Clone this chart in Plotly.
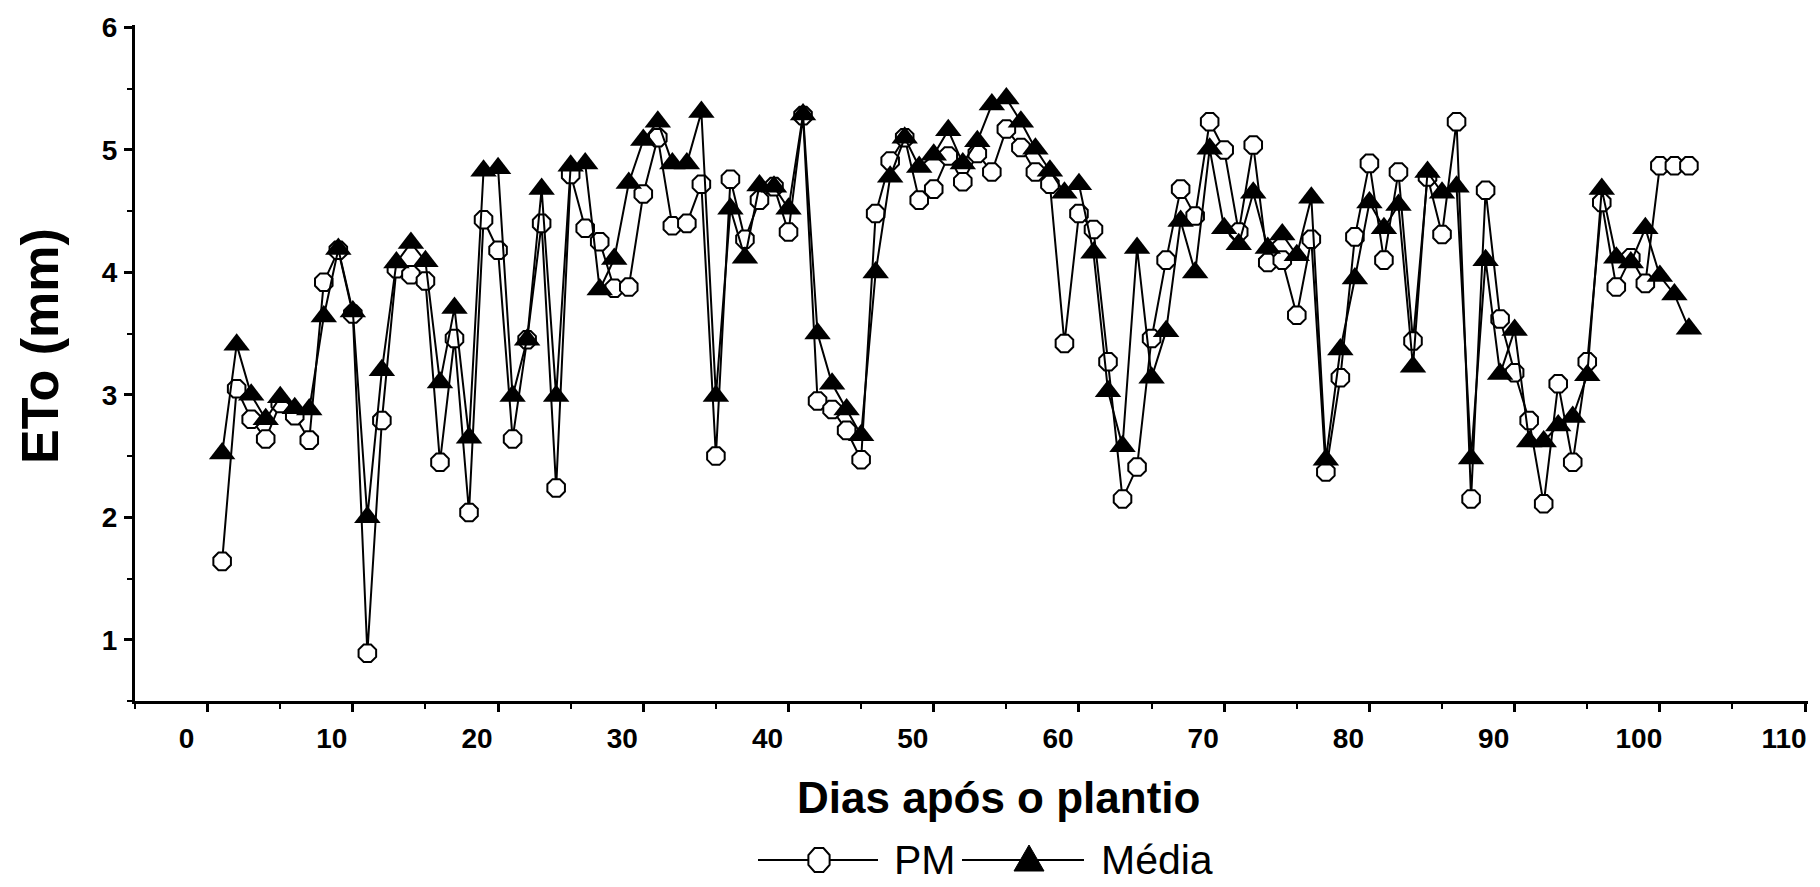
import math
import plotly.graph_objects as go

# Days after planting
dias = list(range(1, 103))

# Reference evapotranspiration (mm) - Penman-Monteith
pm = [1.64, 3.05, 2.80, 2.64, 2.93, 2.83, 2.63, 3.92, 4.18, 3.66,
      0.89, 2.79, 4.03, 3.98, 3.93, 2.45, 3.46, 2.04, 4.43, 4.18,
      2.64, 3.45, 4.40, 2.24, 4.80, 4.36, 4.25, 3.87, 3.88, 4.64,
      5.10, 4.38, 4.40, 4.72, 2.50, 4.76, 4.27, 4.59, 4.70, 4.33,
      5.28, 2.95, 2.88, 2.71, 2.47, 4.48, 4.91, 5.10, 4.59, 4.68,
      4.95, 4.74, 4.97, 4.82, 5.17, 5.02, 4.82, 4.72, 3.42, 4.48,
      4.35, 3.27, 2.15, 2.41, 3.46, 4.10, 4.68, 4.46, 5.23, 5.00,
      4.33, 5.04, 4.08, 4.10, 3.65, 4.27, 2.37, 3.14, 4.29, 4.89,
      4.10, 4.82, 3.44, 4.78, 4.31, 5.23, 2.15, 4.67, 3.62, 3.18,
      2.79, 2.11, 3.09, 2.45, 3.27, 4.57, 3.88, 4.12, 3.91, 4.87,
      4.87, 4.87]

# Reference evapotranspiration (mm) - mean of methods
media = [2.52, 3.41, 3.00, 2.80, 2.98, 2.89, 2.88, 3.64, 4.19, 3.68,
         2.00, 3.20, 4.08, 4.24, 4.09, 3.10, 3.71, 2.65, 4.83, 4.85,
         2.99, 3.45, 4.68, 2.99, 4.87, 4.89, 3.86, 4.11, 4.73, 5.08,
         5.23, 4.89, 4.89, 5.31, 2.99, 4.52, 4.12, 4.71, 4.70, 4.52,
         5.29, 3.50, 3.09, 2.88, 2.67, 4.00, 4.78, 5.10, 4.86, 4.96,
         5.16, 4.89, 5.07, 5.37, 5.42, 5.23, 5.01, 4.83, 4.65, 4.72,
         4.16, 3.03, 2.58, 4.20, 3.14, 3.52, 4.42, 4.00, 5.01, 4.36,
         4.23, 4.65, 4.20, 4.31, 4.14, 4.61, 2.47, 3.37, 3.95, 4.57,
         4.36, 4.55, 3.23, 4.82, 4.65, 4.70, 2.48, 4.10, 3.17, 3.53,
         2.62, 2.62, 2.75, 2.82, 3.16, 4.68, 4.12, 4.08, 4.36, 3.97,
         3.82, 3.54]

x_ticks = list(range(0, 111, 10))
y_ticks = [1, 2, 3, 4, 5, 6]
series_names = ["PM", "Média"]

FONT = "Liberation Sans, Arial, sans-serif"
W, H = 1820, 887
ML, MR, MT, MB = 135, 12, 25, 186
PW, PH = W - ML - MR, H - MT - MB


def px_to_paper(px, py):
    """Convert a page pixel position to paper coordinates."""
    return (px - ML) / PW, (H - MB - py) / PH


fig = go.Figure()
fig.add_trace(go.Scatter(
    x=dias, y=pm, name=series_names[0], mode="lines+markers",
    line=dict(color="black", width=2),
    marker=dict(symbol="octagon", size=19, color="white",
                line=dict(color="black", width=2)),
    showlegend=False,
))
fig.add_trace(go.Scatter(
    x=dias, y=media, name=series_names[1], mode="lines+markers",
    line=dict(color="black", width=2),
    marker=dict(symbol="triangle-up", size=23, color="black",
                line=dict(color="black", width=0)),
    showlegend=False,
))

axis_common = dict(
    showline=True, linecolor="black", linewidth=3,
    ticks="outside", tickcolor="black", tickwidth=3, ticklen=8,
    showgrid=False, zeroline=False, mirror=False,
    tickfont=dict(family=FONT, size=28, color="black", weight="bold"),
    minor=dict(ticks="outside", ticklen=5, tickwidth=2, tickcolor="black"),
)

fig.update_xaxes(range=[-5, 110.2], tickvals=x_ticks, minor_dtick=5,
                 ticklabelshift=-21, ticklabelstandoff=2, **axis_common)
fig.update_yaxes(range=[0.5, 6.02], tickvals=y_ticks, minor_dtick=0.5,
                 ticklabelstandoff=1, **axis_common)

annotations = []
# axis titles
ax, ay = px_to_paper(998, 797)
annotations.append(dict(text="Dias após o plantio", x=ax, y=ay, xref="paper",
                        yref="paper", showarrow=False, xanchor="center",
                        yanchor="middle",
                        font=dict(family=FONT, size=44, color="black",
                                  weight="bold")))
ax, ay = px_to_paper(40, 346)
annotations.append(dict(text="ETo (mm)", x=ax, y=ay, xref="paper",
                        yref="paper", showarrow=False, textangle=-90,
                        xanchor="center", yanchor="middle",
                        font=dict(family=FONT, size=52, color="black",
                                  weight="bold")))

# legend: long line segments with the series symbol in the middle
shapes = []
LEG_Y = 860
legend_items = [
    # (line start, line end, symbol centre, text left, name, symbol)
    (758, 878, 819, 893, series_names[0], "octagon"),
    (962, 1084, 1029, 1100, series_names[1], "triangle"),
]
for x0, x1, xc, xt, name, sym in legend_items:
    p0 = px_to_paper(x0, LEG_Y)
    p1 = px_to_paper(x1, LEG_Y)
    shapes.append(dict(type="line", xref="paper", yref="paper",
                       x0=p0[0], x1=p1[0], y0=p0[1], y1=p1[1],
                       line=dict(color="black", width=2)))
    pc = px_to_paper(xc, LEG_Y)
    if sym == "octagon":
        rx, ry = 11.5, 13.0
        pts = [(rx * math.cos(math.radians(22.5 + 45 * k)),
                ry * math.sin(math.radians(22.5 + 45 * k))) for k in range(8)]
        fill, lw = "white", 2
    else:
        pts = [(-15, -11), (15, -11), (0, 15)]
        fill, lw = "black", 1
    path = "M" + " L".join(f"{a:.2f},{b:.2f}" for a, b in pts) + " Z"
    shapes.append(dict(type="path", xref="paper", yref="paper",
                       xsizemode="pixel", ysizemode="pixel",
                       xanchor=pc[0], yanchor=pc[1], path=path,
                       fillcolor=fill, line=dict(color="black", width=lw)))
    pt = px_to_paper(xt, LEG_Y)
    annotations.append(dict(text=name, x=pt[0], y=pt[1], xref="paper",
                            yref="paper", showarrow=False, xanchor="left",
                            yanchor="middle", borderpad=0,
                            font=dict(family=FONT, size=41, color="black")))

fig.update_layout(
    width=W, height=H,
    margin=dict(l=ML, r=MR, t=MT, b=MB, autoexpand=False),
    plot_bgcolor="white", paper_bgcolor="white",
    showlegend=False,
    annotations=annotations,
    shapes=shapes,
)

fig.write_html("out.html")
